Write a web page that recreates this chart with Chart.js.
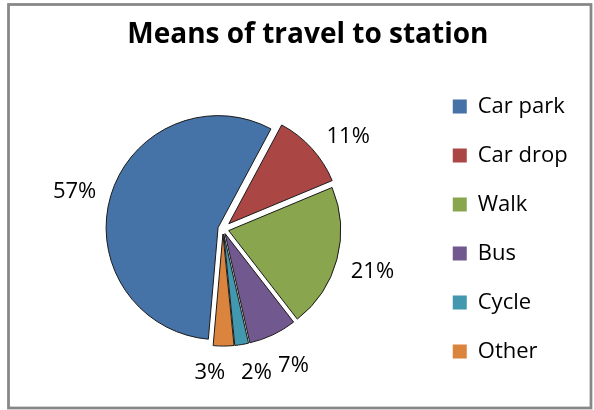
<!DOCTYPE html>
<html>
<head>
<meta charset="utf-8">
<script src="https://cdn.jsdelivr.net/npm/chart.js@4/dist/chart.umd.min.js"></script>
<style>
  html, body { margin: 0; padding: 0; background: #ffffff; }
  #wrap { position: relative; width: 594px; height: 410px; }
</style>
</head>
<body>
<div id="wrap"><canvas id="c" width="594" height="410"></canvas></div>
<script>
// ---- data ----
const categories = ['Car park', 'Car drop', 'Walk', 'Bus', 'Cycle', 'Other'];
const shares = [57, 11, 21, 7, 2, 3];
const titleText = 'Means of travel to station';

// ---- styles ----
const sliceColors = ['#4572A7', '#AA4643', '#89A54E', '#71588F', '#4198AF', '#DB843D'];
const explodeDist = [5, 8, 6, 5, 5, 5];
const labelNudge = [[-2, 2], [10, 3], [1, 7], [8, 11], [10, 6], [-14, 4]];
const FONT = "'Open Sans', 'Noto Sans', sans-serif";

const framePlugin = {
  id: 'frame',
  beforeDraw(chart) {
    const ctx = chart.ctx;
    ctx.save();
    ctx.fillStyle = '#ffffff';
    ctx.fillRect(0, 0, chart.width, chart.height);
    ctx.strokeStyle = '#878787';
    ctx.lineWidth = 2.75;
    ctx.strokeRect(8.5, 4.5, 582.5, 403.5);
    ctx.restore();
  }
};

const titleShiftPlugin = {
  id: 'titleShift',
  afterLayout(chart, args, opts) {
    const t = chart.titleBlock;
    if (t) { t.left += opts.shift; t.right += opts.shift; }
  }
};

const explodePlugin = {
  id: 'explode',
  beforeDatasetsDraw(chart) {
    const a = chart.chartArea;
    const cx = (a.left + a.right) / 2, cy = (a.top + a.bottom) / 2;
    chart.getDatasetMeta(0).data.forEach((el, i) => {
      const mid = (el.startAngle + el.endAngle) / 2;
      el.x = cx + explodeDist[i] * Math.cos(mid);
      el.y = cy + explodeDist[i] * Math.sin(mid);
    });
  }
};

const labelPlugin = {
  id: 'pctLabels',
  afterDatasetsDraw(chart, args, opts) {
    const ctx = chart.ctx;
    ctx.save();
    ctx.font = opts.size + 'px ' + FONT;
    ctx.fillStyle = '#000000';
    ctx.textAlign = 'center';
    ctx.textBaseline = 'middle';
    chart.getDatasetMeta(0).data.forEach((el, i) => {
      const mid = (el.startAngle + el.endAngle) / 2;
      const txt = shares[i] + '%';
      const w = ctx.measureText(txt).width;
      const h = opts.size * 0.75;
      const c = Math.cos(mid), s = Math.sin(mid);
      const r = el.outerRadius + opts.gap;
      const x = el.x + c * r + c * w / 2 + labelNudge[i][0];
      const y = el.y + s * r + s * h / 2 + labelNudge[i][1];
      ctx.fillText(txt, x, y);
    });
    ctx.restore();
  }
};

new Chart(document.getElementById('c'), {
  type: 'pie',
  data: {
    labels: categories,
    datasets: [{
      data: shares,
      backgroundColor: sliceColors,
      borderColor: '#1b1b1b',
      borderWidth: 1
    }]
  },
  plugins: [framePlugin, titleShiftPlugin, explodePlugin, labelPlugin],
  options: {
    responsive: false,
    animation: false,
    events: [],
    rotation: 185,
    radius: 112,
    layout: { padding: { left: 20, right: 16.3, top: 4, bottom: 10 } },
    plugins: {
      tooltip: { enabled: false },
      title: {
        display: true,
        text: titleText,
        color: '#000000',
        font: { family: FONT, size: 28, weight: 'bold' },
        padding: { top: 14, bottom: 6.5 }
      },
      titleShift: { shift: 9 },
      pctLabels: { size: 22, gap: 14 },
      legend: {
        display: true,
        position: 'right',
        align: 'center',
        fullSize: false,
        labels: {
          color: '#000000',
          font: { family: FONT, size: 22 },
          boxWidth: 14,
          boxHeight: 14,
          padding: 27,
          generateLabels(chart) {
            const items = Chart.overrides.pie.plugins.legend.labels.generateLabels(chart);
            items.forEach(it => { it.lineWidth = 0; it.strokeStyle = 'rgba(0,0,0,0)'; });
            return items;
          }
        }
      }
    }
  }
});
</script>
</body>
</html>
